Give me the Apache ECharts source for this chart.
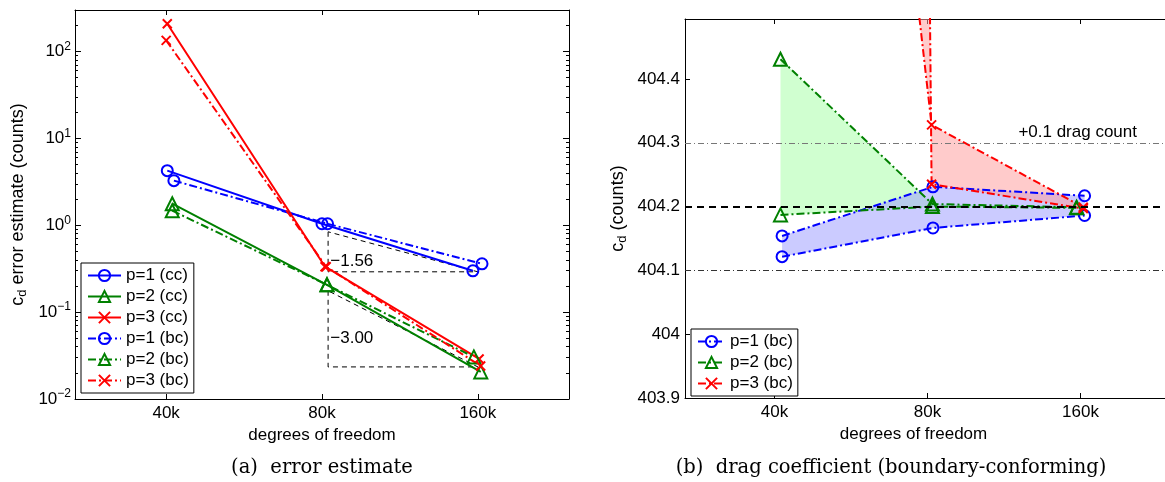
<!DOCTYPE html>
<html>
<head>
<meta charset="utf-8">
<script src="https://cdn.jsdelivr.net/npm/echarts@6/dist/echarts.min.js"></script>
<style>
  html, body { margin: 0; padding: 0; background: #fff; }
  #chart { width: 1165px; height: 482px; }
</style>
</head>
<body>
<div id="chart"></div>
<script>
// ---------- (a) error estimate, counts ----------
const dofP1cc = [40200, 80000, 156500];
const errP1cc = [4.25, 1.04, 0.299];
const dofP2cc = [41100, 81800, 162100];
const errP2cc = [1.77, 0.206, 0.0205];
const dofP3cc = [40200, 81100, 160900];
const errP3cc = [208, 0.333, 0.0289];

const dofP1bc = [41400, 82000, 163000];
const errP1bc = [3.26, 1.04, 0.36];
const dofP2bc = [41100, 81800, 157200];
const errP2bc = [1.47, 0.206, 0.0305];
const dofP3bc = [40000, 81500, 162000];
const errP3bc = [134, 0.333, 0.024];

// slope triangles
const triDof = [82200, 82200, 160000, 82200];
const triP1Err = [0.84, 0.291, 0.291, 0.84];
const triP23Err = [0.176, 0.0234, 0.0234, 0.176];
const slopeText = ['\u22121.56', '\u22123.00'];
const slopeAt = [[83000, 0.38], [83000, 0.0505]];

// ---------- (b) drag coefficient (bc), two curves per p ----------
const cdP1a = [404.154, 404.231, 404.217];
const cdP1b = [404.1215, 404.1665, 404.186];
const cdP2a = [404.431, 404.204, 404.199];
const cdP2b = [404.187, 404.200, 404.198];
const cdP3a = [406.49, 404.328, 404.199];
const cdP3b = [430.0, 404.235, 404.197];
const cdRef = [404.097, 404.197, 404.297];

// axes
const xTicks = [40000, 80000, 160000];
const yTicksA = [0.01, 0.1, 1, 10, 100];
const yTicksB = [403.9, 404.0, 404.1, 404.2, 404.3, 404.4];
const legendA = ['p=1 (cc)', 'p=2 (cc)', 'p=3 (cc)', 'p=1 (bc)', 'p=2 (bc)', 'p=3 (bc)'];
const legendB = ['p=1 (bc)', 'p=2 (bc)', 'p=3 (bc)'];

const FONT = '"Liberation Sans", Arial, Helvetica, sans-serif';
const SERIF = '"DejaVu Serif", "Liberation Serif", serif';
const BLUE = '#0000ff', GREEN = '#008000', RED = '#ff0000';
const dashDot = [8, 3, 2, 3];

// minor ticks of the log axis (2..9 per decade)
const minorA = [];
for (let d = 0.01; d < 200; d *= 10) {
  for (let k = 2; k <= 9; k++) {
    if (d * k < 300) minorA.push(+(d * k).toPrecision(3));
  }
}

const mkO = {symbol: 'circle', symbolSize: 11};
const mkT = {symbol: 'triangle', symbolSize: 13};
const mkX = {symbol: 'path://M0,0L10,10M10,0L0,10', symbolSize: 9};

function pts(xs, ys) {
  return xs.map((x, i) => [x, ys[i]]);
}

function curve(name, color, mk, dashed, xs, ys, xi, yi) {
  return {
    name: name, type: 'line', xAxisIndex: xi, yAxisIndex: yi,
    data: pts(xs, ys),
    symbol: mk.symbol, symbolSize: mk.symbolSize, showSymbol: true,
    lineStyle: {color: color, width: 2, type: dashed ? dashDot : 'solid'},
    itemStyle: {color: 'rgba(255,255,255,0)', borderColor: color, borderWidth: 2},
    emphasis: {disabled: true}, z: 3
  };
}

function band(fill, xs, ya, yb) {
  return {
    type: 'custom', xAxisIndex: 2, yAxisIndex: 4, clip: true, silent: true, z: 1,
    data: [[xs[0], yb[0]]],
    renderItem: function (params, api) {
      const a = xs.map((x, i) => api.coord([x, ya[i]]));
      const b = xs.map((x, i) => api.coord([x, yb[i]])).reverse();
      return {type: 'polygon', shape: {points: a.concat(b)}, style: {fill: fill}};
    }
  };
}

const kLabel = v => Math.round(v / 1000) + 'k';
const expLabel = v => '{b|10}{s|' + String(Math.round(Math.log10(v))).replace('-', '\u2212') + '}';

const nameStyle = {
  fontSize: 18, fontFamily: FONT, color: '#000', lineHeight: 22,
  rich: {sub: {fontSize: 13, fontFamily: FONT, color: '#000', lineHeight: 12, verticalAlign: 'bottom'}}
};

function xPair(grid, namePad) {
  const base = {
    gridIndex: grid, type: 'log', logBase: 2, min: 26667, max: 240000,
    splitLine: {show: false}, minorTick: {show: false},
    axisLine: {show: true, lineStyle: {color: '#000', width: 1}}
  };
  return [
    Object.assign({}, base, {
      position: 'bottom',
      axisTick: {inside: true, length: 5, customValues: xTicks, lineStyle: {color: '#000'}},
      axisLabel: {customValues: xTicks, formatter: kLabel, color: '#000', fontSize: 17, fontFamily: FONT, margin: 6},
      name: 'degrees of freedom', nameLocation: 'middle', nameGap: 24,
      nameTextStyle: {fontSize: 17, fontFamily: FONT, color: '#000', padding: namePad}
    }),
    Object.assign({}, base, {
      position: 'top',
      axisTick: {inside: true, length: 5, customValues: xTicks, lineStyle: {color: '#000'}},
      axisLabel: {show: false}
    })
  ];
}

function logY(pos, ticks, len, line, label) {
  return {
    gridIndex: 0, type: 'log', logBase: 10, min: 0.01, max: 300, position: pos,
    splitLine: {show: false}, minorTick: {show: false},
    axisLine: {show: line, lineStyle: {color: '#000', width: 1}},
    axisTick: {inside: true, length: len, customValues: ticks, lineStyle: {color: '#000'}},
    axisLabel: label ? {
      customValues: yTicksA, formatter: expLabel, margin: 4,
      rich: {
        b: {fontSize: 17, fontFamily: FONT, color: '#000', lineHeight: 22},
        s: {fontSize: 12, fontFamily: FONT, color: '#000', lineHeight: 12, verticalAlign: 'top'}
      }
    } : {show: false}
  };
}

const yAxes = [
  Object.assign(logY('left', yTicksA, 6, true, true), {
    name: 'c{sub|d} error estimate (counts)', nameLocation: 'middle', nameGap: 46, nameTextStyle: nameStyle
  }),
  logY('left', minorA, 3, false, false),
  logY('right', yTicksA, 6, true, false),
  logY('right', minorA, 3, false, false),
  {
    gridIndex: 1, type: 'value', min: 403.9, max: 404.494, position: 'left',
    splitLine: {show: false},
    axisLine: {show: true, lineStyle: {color: '#000', width: 1}},
    axisTick: {inside: true, length: 5, customValues: yTicksB, lineStyle: {color: '#000'}},
    axisLabel: {customValues: yTicksB, color: '#000', fontSize: 17, fontFamily: FONT, margin: 5},
    name: 'c{sub|d} (counts)', nameLocation: 'middle', nameGap: 56, nameTextStyle: nameStyle
  }
];

const series = [
  // (a)
  curve('p=1 (cc)', BLUE, mkO, false, dofP1cc, errP1cc, 0, 0),
  curve('p=2 (cc)', GREEN, mkT, false, dofP2cc, errP2cc, 0, 0),
  curve('p=3 (cc)', RED, mkX, false, dofP3cc, errP3cc, 0, 0),
  curve('p=1 (bc)', BLUE, mkO, true, dofP1bc, errP1bc, 0, 0),
  curve('p=2 (bc)', GREEN, mkT, true, dofP2bc, errP2bc, 0, 0),
  curve('p=3 (bc)', RED, mkX, true, dofP3bc, errP3bc, 0, 0),
  {
    type: 'line', xAxisIndex: 0, yAxisIndex: 0, data: pts(triDof, triP1Err), symbol: 'none', silent: true, z: 2,
    lineStyle: {color: '#000', width: 1, type: [5, 4]},
    markPoint: {
      symbol: 'circle', symbolSize: 0, silent: true,
      label: {show: true, position: 'right', distance: 0, color: '#000', fontSize: 17, fontFamily: FONT},
      data: [{coord: slopeAt[0], label: {formatter: slopeText[0]}}]
    }
  },
  {
    type: 'line', xAxisIndex: 0, yAxisIndex: 0, data: pts(triDof, triP23Err), symbol: 'none', silent: true, z: 2,
    lineStyle: {color: '#000', width: 1, type: [5, 4]},
    markPoint: {
      symbol: 'circle', symbolSize: 0, silent: true,
      label: {show: true, position: 'right', distance: 0, color: '#000', fontSize: 17, fontFamily: FONT},
      data: [{coord: slopeAt[1], label: {formatter: slopeText[1]}}]
    }
  },
  // (b)
  band('rgba(170,255,170,0.55)', dofP2bc, cdP2a, cdP2b),
  band('rgba(160,160,255,0.55)', dofP1bc, cdP1a, cdP1b),
  band('rgba(255,160,160,0.55)', dofP3bc, cdP3a, cdP3b),
  {
    type: 'line', xAxisIndex: 2, yAxisIndex: 4, data: [], symbol: 'none', silent: true, z: 2,
    markLine: {
      symbol: 'none', silent: true, label: {show: false},
      data: [
        {yAxis: cdRef[1], lineStyle: {color: '#000', width: 2, type: [7, 5]}},
        {yAxis: cdRef[2], lineStyle: {color: '#777', width: 1, type: [6, 3, 1, 3]},
         label: {show: true, position: 'insideEndTop', formatter: '+0.1 drag count', distance: [33, 2],
                 color: '#000', fontSize: 17, fontFamily: FONT}},
        {yAxis: cdRef[0], lineStyle: {color: '#333', width: 1, type: [6, 3, 1, 3]}}
      ]
    }
  },
  curve('p=1 (bc)', BLUE, mkO, true, dofP1bc, cdP1a, 2, 4),
  curve('p=1 (bc)', BLUE, mkO, true, dofP1bc, cdP1b, 2, 4),
  curve('p=2 (bc)', GREEN, mkT, true, dofP2bc, cdP2a, 2, 4),
  curve('p=2 (bc)', GREEN, mkT, true, dofP2bc, cdP2b, 2, 4),
  curve('p=3 (bc)', RED, mkX, true, dofP3bc, cdP3a, 2, 4),
  curve('p=3 (bc)', RED, mkX, true, dofP3bc, cdP3b, 2, 4)
];

const legendBase = {
  orient: 'vertical', padding: [4, 5, 4, 6], itemGap: 4, itemHeight: 14,
  borderColor: '#000', borderWidth: 1, backgroundColor: '#fff', borderRadius: 0,
  selectedMode: false, inactiveColor: '#000',
  textStyle: {fontSize: 17, fontFamily: FONT, color: '#000'}
};

const option = {
  animation: false,
  backgroundColor: '#fff',
  grid: [
    {left: 75, top: 10, right: 596, bottom: 83, outerBoundsMode: 'none', containLabel: false},
    {left: 685, top: 19, right: -5, bottom: 84, outerBoundsMode: 'none', containLabel: false}
  ],
  xAxis: xPair(0, 0).concat(xPair(1, [0, 28, 0, 0])),
  yAxis: yAxes,
  legend: [
    Object.assign({}, legendBase, {left: 81, top: 263, itemWidth: 33, data: legendA}),
    Object.assign({}, legendBase, {left: 691, top: 329, itemWidth: 27, data: legendB})
  ],
  graphic: [
    {type: 'text', x: 322, y: 468, style: {text: '(a)  error estimate', font: '19.5px ' + SERIF, fill: '#000', align: 'center', verticalAlign: 'middle'}},
    {type: 'text', x: 891, y: 468, style: {text: '(b)  drag coefficient (boundary-conforming)', font: '19.5px ' + SERIF, fill: '#000', align: 'center', verticalAlign: 'middle'}}
  ],
  series: series
};

const chart = echarts.init(document.getElementById('chart'), null, {renderer: 'canvas'});
chart.setOption(option);
</script>
</body>
</html>
